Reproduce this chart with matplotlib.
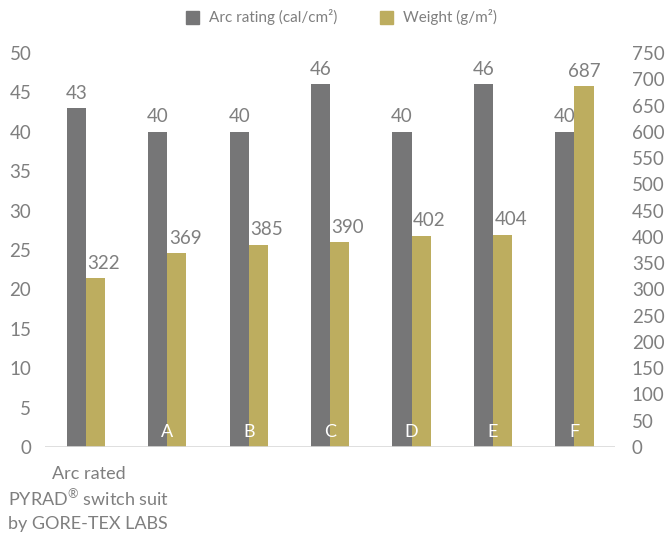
import matplotlib.pyplot as plt
import matplotlib.transforms as mtransforms
import numpy as np
from matplotlib.patches import Patch

# data
categories = ["Arc rated\nPYRAD$^{\u00ae}$ switch suit\nby GORE-TEX LABS", "A", "B", "C", "D", "E", "F"]
arc_rating = [43, 40, 40, 46, 40, 46, 40]
weight = [322, 369, 385, 390, 402, 404, 687]

GRAY = "#767677"
OLIVE = "#BDAD5F"
TXT = "#7F7F7F"

plt.rcParams['font.family'] = ['Lato', 'DejaVu Sans']
plt.rcParams['mathtext.default'] = 'regular'

fig = plt.figure(figsize=(6.65, 5.35), dpi=100)
ax = fig.add_axes([0.068, 0.1645, 0.857, 0.7365])
ax2 = ax.twinx()

x = np.arange(len(categories))
w = 0.235

ax.bar(x - w / 2, arc_rating, w, color=GRAY, zorder=2)
ax2.bar(x + w / 2, weight, w, color=OLIVE, zorder=2)

ax.set_ylim(0, 50)
ax2.set_ylim(0, 750)
ax.set_xlim(-0.5, 6.5)
ax.set_yticks(range(0, 51, 5))
ax2.set_yticks(range(0, 751, 50))
ax.set_xticks([])

for a in (ax, ax2):
    for s in a.spines.values():
        s.set_visible(False)
    a.tick_params(axis='y', length=0, labelsize=13.5, colors=TXT)
ax.tick_params(axis='y', pad=10)
ax2.tick_params(axis='y', pad=12)

ax2.axhline(0, color="#D9D9D9", lw=1.2, zorder=3)

# value labels (drawn on ax2 so they sit above both bar sets)
k = 750 / 50
for i, v in enumerate(arc_rating):
    ax2.text(x[i] - w / 2, (v + 0.8) * k, str(v), ha='center', va='bottom',
             fontsize=13.5, color=TXT, zorder=5)
for i, v in enumerate(weight):
    dx = 0.1 if i < len(weight) - 1 else 0
    ax2.text(x[i] + w / 2 + dx, v + 12, str(v), ha='center', va='bottom',
             fontsize=13.5, color=TXT, zorder=5)

# first category label sits below the axis, the rest inside the bars
trans = mtransforms.blended_transform_factory(ax.transData, ax.transAxes)
for j, line in enumerate(categories[0].split("\n")):
    ax.text(x[0] + 0.03, -0.068 - j * 0.064, line, transform=trans, ha='center', va='center',
            fontsize=13, color=TXT, clip_on=False)
for xi, c in zip(x[1:], categories[1:]):
    ax2.text(xi, 1.9 * k, c, ha='center', va='center', fontsize=13, color='white', zorder=5)

handles = [Patch(color=GRAY, label="Arc rating (cal/cm\u00b2)"),
           Patch(color=OLIVE, label="Weight (g/m\u00b2)")]
fig.legend(handles=handles, loc='upper center', bbox_to_anchor=(0.513, 1.008), ncol=2,
           frameon=False, fontsize=11, labelcolor=TXT, handlelength=0.9, handleheight=0.9,
           columnspacing=2.8, handletextpad=0.6)

fig.savefig("out.png", dpi=100)
